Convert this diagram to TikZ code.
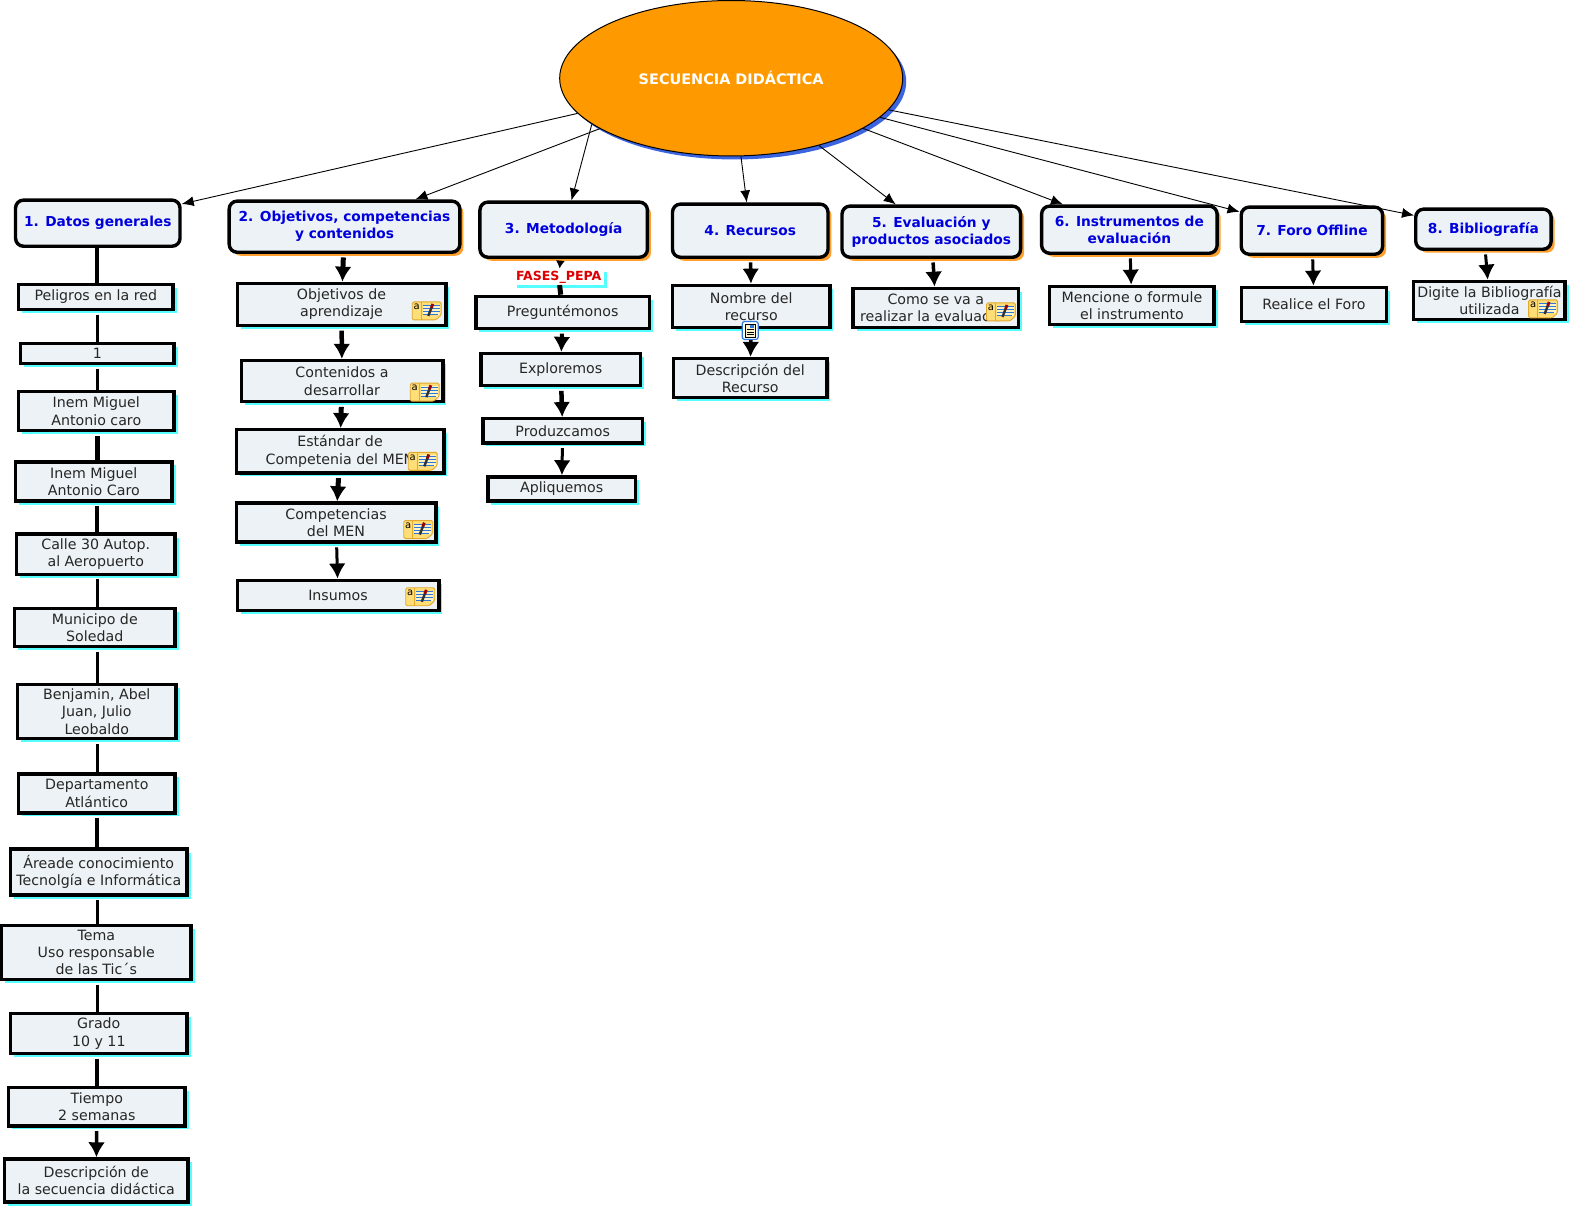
\documentclass[tikz,border=0pt]{standalone}
\usepackage{fontspec}
\setmainfont{DejaVu Sans}
\usetikzlibrary{arrows.meta,shapes.geometric,shadows}
\definecolor{boxfill}{HTML}{ECF2F5}
\definecolor{rootfill}{HTML}{FF9900}
\definecolor{rootshade}{HTML}{3A64E0}
\definecolor{topicshade}{HTML}{FF9F2E}
\definecolor{detailshade}{HTML}{55FFFF}
\definecolor{topicblue}{HTML}{0000DD}
\definecolor{phrasered}{HTML}{DD0000}
\definecolor{notefill}{HTML}{FFDD77}
\definecolor{notepale}{HTML}{FFF4C8}
\definecolor{noteedge}{HTML}{E2A92C}
\definecolor{noteline}{HTML}{2F78D8}
\tikzset{
  dims/.style 2 args={minimum width=1.003*#1bp+2bp,minimum height=1.003*#2bp+2bp},
  topic/.style={plaintopic,
    drop shadow={shadow xshift=3.5bp,shadow yshift=-3.5bp,fill=topicshade,opacity=1}},
  plaintopic/.style={draw=black,line width=3.4bp,fill=boxfill,rounded corners=8bp,inner sep=0pt,align=center,
    font=\fontsize{13.8}{17.2}\selectfont\bfseries,text=topicblue},
  detail/.style={draw=black,line width=3.4bp,fill=boxfill,inner sep=0pt,align=center,
    font=\fontsize{14.25}{17.2}\selectfont,text=black!85,
    drop shadow={shadow xshift=3.5bp,shadow yshift=-3.5bp,fill=detailshade,opacity=1}},
  spoke/.style={line width=0.9bp,-{Latex[length=12bp,width=10bp]}},
  link/.style={line width=#1bp},
  flow/.style={line width=#1bp,shorten <=3.5bp,-{Latex[length=15bp,width=17bp]}},
  noteicon/.pic={
    % yellow sticky note
    \draw[noteedge,fill=notefill,line width=0.9bp,rounded corners=1.5bp]
      (-14.5bp,9bp) -- (14.5bp,9bp) -- (14.5bp,-4bp) -- (9bp,-9bp) -- (-14.5bp,-9bp) -- cycle;
    \draw[noteedge,line width=0.7bp] (-5.5bp,9bp) -- (-5.5bp,-9bp);
    \fill[notepale] (-4bp,6bp) rectangle (13bp,-4.5bp);
    \draw[noteline,line width=1bp] (-4bp,5bp) -- (13bp,5bp) (-4bp,2bp) -- (13bp,2bp)
      (-4bp,-1bp) -- (13bp,-1bp) (-4bp,-4bp) -- (11bp,-4bp);
    \draw[black!80,line width=2.4bp] (1.5bp,-5bp) -- (5bp,4bp);
    \draw[red!60!black,line width=2.8bp] (4.6bp,3bp) -- (6bp,7bp);
    \node (a) [inner sep=0pt,font=\fontsize{10}{10}\selectfont,text=black] at (-10bp,4bp) {a};
  },
  docicon/.pic={
    % resource badge
    \draw[noteline,fill=white,line width=1.2bp,rounded corners=2.5bp] (-8bp,9bp) rectangle (8bp,-9bp);
    \draw[black,fill=notepale,line width=0.7bp] (-5bp,6.5bp) rectangle (5bp,-6.5bp);
    \draw[black,line width=0.7bp] (-3.5bp,1bp) -- (3.5bp,1bp) (-3.5bp,-1.5bp) -- (3.5bp,-1.5bp) (-3.5bp,-4bp) -- (3.5bp,-4bp);
    \fill[noteline] (0bp,5.5bp) rectangle (4bp,2.5bp);
  }
}
\begin{document}
\begin{tikzpicture}[x=1.003bp,y=-1.003bp]
\useasboundingbox (0,0) rectangle (1567.3,1203.4);

% Root
\node (root) [ellipse,draw=black,line width=1bp,fill=rootfill,inner sep=0pt,dims={340}{153},
  font=\fontsize{14.5}{17}\selectfont\bfseries,text=white,
  drop shadow={shadow xshift=3.5bp,shadow yshift=-3.5bp,fill=rootshade,opacity=1}] at (729,78) {SECUENCIA DIDÁCTICA};
\coordinate (rootleft) at (590,124);
\coordinate (spine) at (97,0);

% Topics
\node (datos) [plaintopic,dims={162}{44}] at (97.5,222.5) {1. Datos generales};
\node (objetivos) [topic,dims={228}{49}] at (343.5,226) {2. Objetivos, competencias\\y contenidos};
\node (metodo) [topic,dims={165}{53}] at (562,229) {3. Metodología};
\node (recursos) [topic,dims={153}{51}] at (748,230) {4. Recursos};
\node (evalua) [topic,dims={176}{49}] at (928.5,231) {5. Evaluación y\\productos asociados};
\node (instru) [topic,dims={173}{45}] at (1126,229) {6. Instrumentos de\\evaluación};
\node (foro) [topic,dims={139}{45}] at (1308,230) {7. Foro Offline};
\node (biblio) [topic,dims={133}{38}] at (1479,228.5) {8. Bibliografía};

% Column 1
\node (peligros) [detail,dims={152}{23}] at (95.5,296) {Peligros en la red};
\node (uno) [detail,dims={151}{18}] at (97,352.5) {1};
\node (inema) [detail,dims={153}{37}] at (96,410) {Inem Miguel\\Antonio caro};
\node (inemb) [detail,dims={154}{37}] at (93.5,480) {Inem Miguel\\Antonio Caro};
\node (calle) [detail,dims={156}{38}] at (95.5,552.5) {Calle 30 Autop.\\al Aeropuerto};
\node (municipio) [detail,dims={158}{36}] at (94.5,625.5) {Municipo de\\Soledad};
\node (nombres) [detail,dims={156}{52}] at (96.5,709.5) {Benjamin, Abel\\Juan, Julio\\Leobaldo};
\node (depto) [detail,dims={154}{37}] at (96.5,791) {Departamento\\Atlántico};
\node (area) [detail,dims={174}{44}] at (98.5,869.5) {Áreade conocimiento\\Tecnolgía e Informática};
\node (tema) [detail,dims={187}{52}] at (96,949.5) {Tema\\Uso responsable\\de las Tic´s};
\node (grado) [detail,dims={174}{38}] at (98.5,1030.5) {Grado\\10 y 11};
\node (tiempo) [detail,dims={174}{36}] at (96.5,1103.5) {Tiempo\\2 semanas};
\node (descsec) [detail,dims={181}{41}] at (96,1177) {Descripción de\\la secuencia didáctica};

% Column 2
\node (apren) [detail,dims={206}{40}] at (340.5,303.5) {Objetivos de\\aprendizaje};
\node (conte) [detail,dims={199}{39}] at (341,380) {Contenidos a\\desarrollar};
\node (estandar) [detail,dims={205}{41}] at (339,450) {Estándar de\\Competenia del MEN};
\node (compe) [detail,dims={197}{37}] at (335,521) {Competencias\\del MEN};
\node (insumos) [detail,dims={199}{28}] at (337,593.5) {Insumos};

% Column 3
\node (fases) [fill=white,inner sep=0pt,dims={88}{14},text=phrasered,font=\fontsize{12.6}{14}\selectfont\bfseries,
  drop shadow={shadow xshift=3.5bp,shadow yshift=-3.5bp,fill=detailshade,opacity=1}] at (557,276) {FASES\_PEPA};
\node (pregun) [detail,dims={171}{30}] at (561,311.5) {Preguntémonos};
\node (explor) [detail,dims={157}{30}] at (559,368.5) {Exploremos};
\node (produz) [detail,dims={157}{22}] at (561,429.5) {Produzcamos};
\node (apliq) [detail,dims={145}{22}] at (560,487.5) {Apliquemos};

% Column 4 and the rest
\node (nombrer) [detail,dims={155}{40}] at (749,305.5) {Nombre del\\recurso};
\node (descrec) [detail,dims={151}{37}] at (748,377) {Descripción del\\Recurso};
\node (como) [detail,dims={163}{37}] at (933,307) {Como se va a\\realizar la evaluación};
\node (mencione) [detail,dims={162}{36}] at (1128.5,304.5) {Mencione o formule\\el instrumento};
\node (realice) [detail,dims={143}{32}] at (1310,303.5) {Realice el Foro};
\node (digite) [detail,dims={149}{36}] at (1485,299.5) {Digite la Bibliografía\\utilizada};

% Root links
\draw[spoke] (root) -- (datos);
\draw[spoke] (root) -- (objetivos);
\draw[spoke] (rootleft) -- (metodo);
\draw[spoke] (root) -- (recursos);
\draw[spoke] (root) -- (evalua);
\draw[spoke] (root) -- (instru);
\draw[spoke] (root) -- (foro);
\draw[spoke] (root) -- (biblio);

% Column 1 links
\draw[link=4] (datos.south -| spine) -- (peligros.north -| spine);
\draw[link=3.5] ([yshift=-3.5bp]peligros.south -| spine) -- (uno.north -| spine);
\draw[link=3] ([yshift=-3.5bp]uno.south -| spine) -- (inema.north -| spine);
\draw[link=5] ([yshift=-3.5bp]inema.south -| spine) -- (inemb.north -| spine);
\draw[link=4] ([yshift=-3.5bp]inemb.south -| spine) -- (calle.north -| spine);
\draw[link=3.5] ([yshift=-3.5bp]calle.south -| spine) -- (municipio.north -| spine);
\draw[link=3.5] ([yshift=-3.5bp]municipio.south -| spine) -- (nombres.north -| spine);
\draw[link=3] ([yshift=-3.5bp]nombres.south -| spine) -- (depto.north -| spine);
\draw[link=4] ([yshift=-3.5bp]depto.south -| spine) -- (area.north -| spine);
\draw[link=3.5] ([yshift=-3.5bp]area.south -| spine) -- (tema.north -| spine);
\draw[link=3.5] ([yshift=-3.5bp]tema.south -| spine) -- (grado.north -| spine);
\draw[link=4] ([yshift=-3.5bp]grado.south -| spine) -- (tiempo.north -| spine);
\draw[flow=3.5] (tiempo) -- (descsec);

% Column 2 links
\draw[flow=5] (objetivos) -- (apren);
\draw[flow=4.5] (apren) -- (conte);
\draw[flow=5] (conte) -- (estandar);
\draw[flow=5] (estandar) -- (compe);
\draw[flow=3] (compe) -- (insumos);

% Column 3 links
\draw[line width=2bp,shorten <=3.5bp,-{Latex[length=8bp,width=9bp]}] (metodo) -- (fases);
\draw[line width=5bp] (fases) -- (pregun);
\draw[flow=4] (pregun) -- (explor);
\draw[flow=4.5] (explor) -- (produz);
\draw[flow=3] (produz) -- (apliq);

% Other links
\draw[flow=3.5] (recursos) -- (nombrer);
\draw[flow=3.5] (nombrer) -- (descrec);
\draw[flow=3.5] (evalua) -- (como);
\draw[flow=3] (instru) -- (mencione);
\draw[flow=3] (foro) -- (realice);
\draw[flow=3] (biblio) -- (digite);

% Icons
\pic (notea) at (425.5,310) {noteicon};
\pic (noteb) at (423.5,391) {noteicon};
\pic (notec) at (421.5,460) {noteicon};
\pic (noted) at (417,528) {noteicon};
\pic (notee) at (419,595) {noteicon};
\pic (notef) at (998,311) {noteicon};
\pic (noteg) at (1538.5,308) {noteicon};
\pic (docrec) at (748,329.5) {docicon};
\end{tikzpicture}
\end{document}
